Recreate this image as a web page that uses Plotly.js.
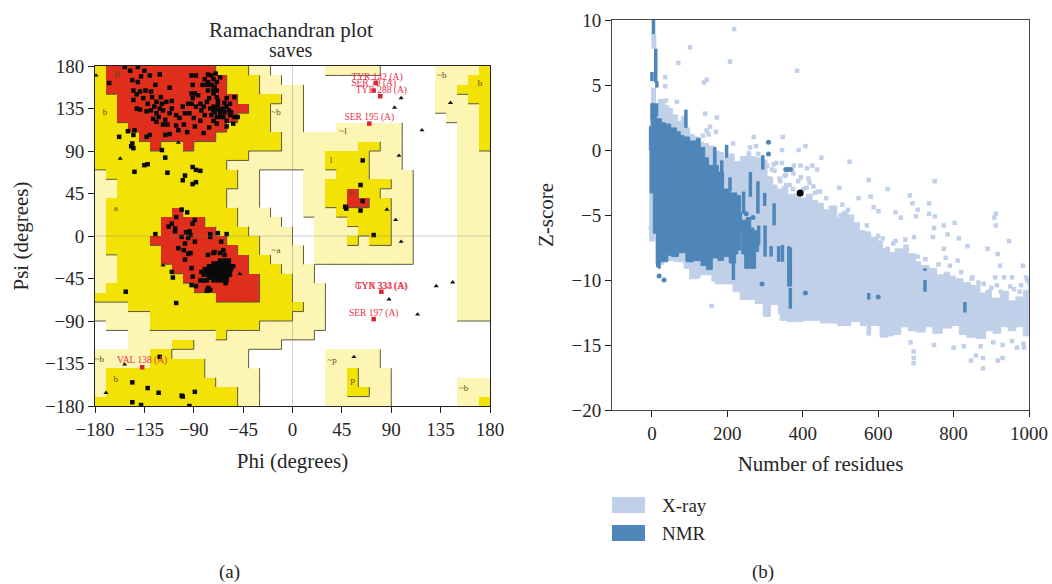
<!DOCTYPE html>
<html><head><meta charset="utf-8">
<script src="https://cdn.plot.ly/plotly-3.0.1.min.js"></script>
<style>html,body{margin:0;padding:0;background:#fff}#c{width:1052px;height:584px}</style>
</head><body><div id="c"></div>
<script>
// ---------- Panel (a): Ramachandran regions, one row per 10 deg of psi (top = 180), tokens = level + end column
const regionRows = [
"y1 r11 y14 p16 .21 p26 .31 p35 y36",
"y1 r12 y15 p17 .31 p34 y36",
"y1 r12 y15 p19 .31 p33 y36",
"y2 r13 y17 p19 .31 p34 y36",
"y2 r14 y16 p19 .31 p35 y36",
"y2 r13 y16 p19 .32 p35 y36",
"y3 r12 y16 p19 .22 p28 .33 p35 y36",
"y4 r11 y17 p28 .33 p35 y36",
"y5 r6 y8 r9 y17 p24 y26 p28 .33 p35 y36",
"y14 p21 y25 p28 .33 p36",
"y12 p21 y25 p28 .33 p36",
"p1 y13 p15 .19 p22 y25 p29 .33 p36",
"p2 y13 p15 .19 p21 y27 p29 .33 p36",
"p2 y12 p15 .19 p21 y23 r24 y26 p29 .33 p36",
"p1 y12 p15 .19 p21 y23 r25 y27 p29 .33 p36",
"p1 y7 r8 y13 p16 .19 p22 y27 p29 .33 p36",
"p1 y6 r10 y13 p17 .20 p23 y27 p29 .33 p36",
"p1 y6 r11 y14 p18 .20 p24 y27 p29 .33 p36",
"p1 y5 r12 y15 p18 .20 p23 y24 p25 y27 p29 .33 p36",
"p1 y6 r13 y15 p19 .20 p29 .33 p36",
"p2 y6 r14 y16 p19 .20 p29 .33 p36",
"p2 y7 r14 y17 p20 .33 p36",
"p2 y8 r15 y18 p20 .33 p36",
"p1 y9 r15 y18 p21 .33 p36",
"y11 r15 y18 p21 .33 p36",
"p3 y19 p21 .33 p36",
"p5 y18 p21 .33 p36",
".1 p5 y15 p21 .36",
".3 p11 y12 p20 .36",
".3 p7 y9 p17 .36",
"p5 y7 p14 .21 p26 .36",
"p5 y10 p14 .21 p26 .36",
"p1 y10 p15 .21 p23 y24 p27 .36",
"p1 y11 p15 .21 p23 y24 p27 .33 p36",
"p1 y13 p15 .21 p23 y25 p27 .33 p36",
"y13 p15 .21 p27 .33 p35 y36"
];
const residues = [
[-153,179],[-148,175],[-141,179],[-135,175],[-138,169],[-141,163],[-167,162],[-121,171],[-145,154],[-139,153],[-134,154],[-129,153],[-145,144],[-112,157],[-92,170],[-91,160],[-88,170],[-77,171],
[-80,166],[-77,163],[-72,166],[-69,163],[-78,160],[-74,160],[-71,158],[-77,154],[-69,154],[-72,151],[-92,151],[-89,151],[-86,149],[-91,146],[-84,140],[-92,140],[-78,142],[-69,147],[-60,146],[-53,147],
[-72,137],[-68,139],[-63,135],[-60,137],[-71,131],[-66,130],[-62,131],[-74,128],[-69,126],[-63,126],[-57,128],[-53,126],[-50,126],[-72,133],
[-124,142],[-119,140],[-115,142],[-126,137],[-121,135],[-124,130],[-118,133],[-122,126],[-127,124],[-124,121],[-116,123],[-112,130],[-106,128],[-100,137],[-95,140],[-88,137],[-81,137],[-94,130],[-106,117],[-104,112],[-99,118],[-89,116],[-69,119],[-60,116],[-54,119],[-81,109],
[-139,134],[-133,132],[-129,133],[-142,135],[-130,107],[-133,105],[-116,107],[-144,112],[-150,111],[-145,107],[-158,105],[-146,98],[-147,95],[-145,93],[-119,91],[-116,83],[-132,76],[-135,75],[-144,68],[-114,67],[-91,73],[-88,70],[-84,69],[-98,64],[-100,59],[-91,55],[-88,57],
[-75,135],[-70,134],[-66,134],[-58,133],[-65,126],[-60,122],[-72,122],[-56,131],[-68,143],[-62,141],[-57,140],[-80,128],[-83,133],[-76,146],[-72,155],[-66,168],[-74,170],[-70,172],[-82,160],[-98,130],[-103,125],[-110,135],[-114,118],[-120,147],[-128,147],[-110,143],[-132,140],[-136,146],[-142,150],[-146,165],[-130,170],[-125,160],[-118,118],[-90,125],[-84,122],[-96,110],[-112,108],[-76,115],
[-101,28],[-96,25],[-106,20],[-110,13],[-113,10],[-107,8],[-89,17],[-91,13],[-125,2],[-94,4],[-101,-1],[-68,3],[-60,2],[-75,-1],
[-107,5],[-97,4],[-94,5],[-95,-2],[-89,-6],[-104,-13],[-99,-15],[-95,-19],[-98,-25],[-75,2],[-65,-6],[-71,-17],[-66,-18],[-62,-20],[-110,-38],[-109,-44],[-152,-59],[-106,-71],[-92,-34],[-91,-43],[-92,-52],[-88,-53],[-78,-47],[-78,-58],[-75,-57],[-61,-50],
[-93,1],[-93,-18],[-98,-8],[-63,-15],[-72,-18],[-77,-20],[-81,-47],[-77,-55],[-84,-47],[-54,-32],
[-66,-26],[-62,-26],[-58,-26],[-72,-29],[-68,-29],[-64,-29],[-60,-29],[-76,-32],[-72,-32],[-68,-32],[-64,-32],[-60,-32],[-56,-32],[-80,-35],[-76,-35],[-72,-35],[-68,-35],[-64,-35],[-60,-35],[-56,-35],
[-79,-38],[-75,-38],[-71,-38],[-67,-38],[-63,-38],[-59,-38],[-77,-41],[-73,-41],[-69,-41],[-65,-41],[-61,-41],[-57,-41],[-72,-44],[-68,-44],[-64,-44],[-60,-44],[-68,-47],[-64,-47],
[-74,-33.5],[-70,-33.5],[-66,-33.5],[-62,-33.5],[-58,-33.5],[-77,-36.5],[-73,-36.5],[-69,-36.5],[-65,-36.5],[-61,-36.5],[-57,-36.5],[-75,-40],[-71,-40],[-67,-40],[-63,-40],[-59,-40],[-70,-43],[-66,-43],[-62,-43],[-66,-46],[-62,-46],[-70,-30.5],[-66,-30.5],[-62,-30.5],[-58,-30.5],[-83,-38],[-81,-41],[-76,-44],[-72,-47],[-60,-47],
[-121,-128],[-146,-155],[-132,-161],[-122,-166],[-101,-169],[-100,-170],[-89,-165],[-146,-176],[-138,-179],[-94,-180],
[64,80],[62,54],[64,37],[48,31],[49,29],[62,27],[74,1]
];
const glycines = [[99,146],[93,136],[118,112],[144,141],[97,85],[86,28],[94,17],[-157,82],[-104,99],[-179,170],[99,-6],[131,-53],[146,-49],[88,-67],[114,-83],[56,-128],[-153,-136],[-170,-166],[-118,-31],[-48,-40]];
const outlierPts = [[76,162],[74,154],[80,148],[70,119],[81,-59],[74,-88],[-137,-139]];
const outlierNames = ["TYR 142 (A)","SER 79 (A)","TYR 288 (A)","SER 195 (A)","GYN 333 (A)","TYR 334 (A)","SER 197 (A)","VAL 138 (A)"];
const outlierNamePos = [[77,168],[74,161],[81,154],[70,125],[81,-54],[81,-54],[74,-82],[-137,-132]];
const regionNames = ["B","b","a","l","L","~b","~l","~a","~b","b","~b","b","~p","p","~b"];
const regionNamePos = [[-160,171],[-171,130],[-161,29],[35,80],[54,46],[-15,130],[46,110],[-15,-16],[136,170],[171,161],[-176,-131],[-161,-152],[36,-132],[55,-153],[156,-162]];
const ramaTicks = [-180,-135,-90,-45,0,45,90,135,180];

// ---------- Panel (b): Z-score against number of residues (upper edge left to right, then lower edge back)
const xrayBodyN = [-6,-4,5,20,30,45,55,68,78,90,100,112,125,137,150,165,180,190,205,218,235,252,262,275,290,305,320,332,345,360,378,394,410,425,440,455,470,490,505,520,535,550,565,580,600,612,630,645,668,680,700,713,735,755,775,790,805,825,845,870,885,900,925,945,965,985,1000,
 1000,985,965,945,925,905,885,860,835,815,795,770,745,725,700,680,660,640,625,605,580,571,553,527,492,447,402,359,340,335,314,295,274,234,215,168,159,123,100,85,60,30,10,-6];
const xrayBodyZ = [0,2.5,3.3,3.9,3.4,3.2,2.7,2.2,2.6,1.7,1.2,1,0.6,0.5,0.3,-0.1,-0.2,-0.6,-0.3,-0.9,-0.5,-0.1,-0.5,-0.6,-1.2,-2.1,-2.7,-3,-2.8,-3.4,-3.4,-3.7,-3.4,-3.9,-4.1,-4.6,-4.3,-5.2,-4.7,-5,-5.6,-6.2,-6.3,-6.7,-7,-7.6,-7.9,-7.6,-7.3,-8,-8.6,-8.9,-9.1,-9.6,-9.4,-9.7,-9.9,-10.2,-10.4,-11,-10.8,-11.4,-10.9,-11.6,-11.3,-10.8,-10.4,
 -14.3,-13.6,-13.9,-13.6,-14.1,-13.9,-14.5,-14.4,-14.2,-13.5,-13.7,-14.1,-13.6,-14,-13.9,-13.6,-14.2,-14.3,-14.4,-13.5,-14.2,-13.5,-13.2,-13.5,-13.3,-13.1,-13.2,-13.1,-12.6,-11.9,-12.8,-11.8,-11.5,-10.9,-10.3,-10.1,-9.6,-9.9,-9.1,-8.6,-8.5,-8.8,-7,0];
const xrayDotN = [218,101,207,70,35,145,138,35,385,66,37,141,172,154,145,170,150,135,270,347,215,276,345,407,389,449,323,345,376,394,411,425,438,-1,-3,123,
 524,575,625,750,684,497,548,580,588,601,646,660,691,735,735,705,700,750,774,748,803,912,908,912,814,837,947,890,917,784,745,695,646,625,811,779,774,923,984,910,934,955,992,979,
 800,846,878,878,827,872,859,917,930,968,987,694,694,694,748,686,575,
 300,312,325,340,352,365,375,388,402,415,428,440,305,330,355,372,395,418,445,480,500,520,545,570,600,640,655,690,725,760,790,820,850,880,900,925,950,975,1000,905,930,955,985,
 260,282,300,318,338,356,374,410,432,462,505,612,672,705,848,866,895,915,940,960,995,1000,1000,158];
const xrayDotZ = [9.3,7.9,6.8,6.7,5.6,5.4,5.2,4.9,6.1,3.7,3.8,2.8,2.5,1.8,1.5,1.4,1.2,1.1,1,1,0.5,0.3,0,0.3,0,-0.6,-1.1,-1,-1.2,-1.2,-1.4,-1.2,-1.5,-3.5,-6,-9.7,
 -0.9,-2.3,-3,-2.4,-3.5,-2.9,-3.7,-3.6,-4.4,-4.7,-4.8,-5.2,-4.1,-4.1,-4.9,-4.6,-5.1,-5.1,-5.8,-6,-5.6,-4.9,-5.2,-5.8,-6.8,-7.4,-7,-7.6,-8,-6.5,-6.7,-6.7,-7,-7.6,-8.5,-8.3,-7.6,-8.9,-8.9,-9.8,-9.8,-9.8,-9.8,-10.4,
 -15.2,-16.2,-16.8,-16,-15.1,-15.1,-15.8,-16.2,-16,-15.2,-15.2,-15.5,-16,-16.4,-15,-14.8,-14.1,
 -1.8,-2.2,-1.6,-2.4,-2,-2.7,-1.8,-2.4,-3,-2.2,-2.8,-3.2,-1.2,-1,-1.9,-1.5,-2.1,-2.5,-3.2,-4.6,-5,-4.6,-6.2,-5.8,-6.6,-7.2,-8,-8.1,-8.4,-8.8,-8.9,-9.4,-9.8,-10.3,-10.6,-10.9,-10.5,-10.9,-10.9,-14.8,-15,-14.7,-14.9,
 0.2,-0.3,-0.9,-1.5,-2.2,-2.7,-3,-2.9,-3.3,-3.7,-4.2,-6.8,-6.9,-8.2,-9.9,-10.2,-10.9,-10.4,-11,-10.7,-10,-10.2,-11.2,-12];
const nmrBodyN = [-5,-7,-2,12,25,35,50,65,75,85,100,118,128,140,150,163,170,176,190,205,225,235,238,235,228,222,205,190,175,160,145,130,110,90,70,52,42,30,22,17,12,3.5,-5];
const nmrBodyZ = [0,1.8,2.7,2.4,2.1,2,1.7,1.4,1.1,1,0.7,0.9,0.2,-0.6,-1.2,0.2,-1.2,-1.7,-3,-3.3,-3.5,-4.8,-6,-7.7,-8,-8.7,-8.2,-8.5,-8.3,-9.2,-8.9,-8.5,-8.6,-7.9,-8.2,-8.1,-8.6,-8.6,-9.1,-9,-6.4,-3.3,0];
const nmrBlobN = [238,250,262,270,280,283,275,262,246,238];
const nmrBlobZ = [-5.4,-5.2,-6,-6.2,-7,-7.8,-9.1,-9.1,-8,-5.4];
const nmrStreakN = [90,185,207,261,243,281,299,294,324,283,300,363,367,367,346,575,724,724,830,216,336,316,4,10,0,10,13,0,12,4,198];
const nmrStreakTop = [3.1,-0.8,-2.1,-1.7,-3.2,-2.4,-3.3,-0.4,-4.1,-5.8,-5.8,-7.4,-7.5,-10.6,-7.3,-11,-9.1,-10,-11.7,-8.7,-7.4,-7.4,10,7.8,6,6,5.3,3.6,3.6,3.6,0.4];
const nmrStreakEnd = [1.7,-2.4,-3.2,-3.6,-4.9,-4.9,-4.3,-1.5,-5.8,-7.3,-8.2,-10.5,-10.5,-12.2,-8.6,-11.5,-9.3,-10.9,-12.5,-10,-8.6,-8.2,8.9,6,5.3,5.2,4.8,2.4,2.6,2.4,-0.6];
const xrayStreakN = [5,4,22,30];
const xrayStreakTop = [8.9,4.8,3.9,3.6];
const xrayStreakEnd = [7.8,3.6,2.4,2.6];
const nmrDotN = [19,32,292,309,309,355,361,367,407,600,250,268];
const nmrDotZ = [-9.7,-10,-10.3,0.6,-0.3,-1.5,-1.5,-1.5,-11,-11.3,-4.9,-5.2];
const targetN = [393];
const targetZ = [-3.3];
const residueTicks = [0,200,400,600,800,1000];
const zTicks = [-20,-15,-10,-5,0,5,10];
const legendNames = ["X-ray","NMR"];

// ---------- styles
const SERIF = '"Liberation Serif", serif';
const TXT = '#262626';
const RED='#df2f1c', YEL='#f3e205', PALE='#fdf5b4', EDGE='#5c5a3e';
const XRAY='#c1d0e9', NMR='#4f86b9';
const W=1052, H=584;
const levels = {'.':0,p:1,y:2,r:3};

const grid = regionRows.map(r=>{
  const row=[]; r.split(' ').forEach(t=>{const lv=levels[t[0]],end=parseInt(t.slice(1));while(row.length<end)row.push(lv);});
  return row;
});
const cellX=[...Array(36).keys()].map(i=>-175+10*i);
const cellY=[...Array(36).keys()].map(i=>175-10*i);
// darker edge wherever a region steps down to its right or below
const ex=[],ey=[];
grid.forEach((row,r)=>row.forEach((v,c)=>{
  const xr=-180+10*(c+1), yb=170-10*r;
  if(c<35 && row[c+1]<v){ex.push(xr,xr,null);ey.push(yb+10,yb,null);}
  if(r<35 && grid[r+1][c]<v){ex.push(xr-10,xr,null);ey.push(yb,yb,null);}
}));
const col=(a,i)=>a.map(p=>p[i]);
const segs=(ns)=>ns.flatMap(n=>[n,n,null]);
const segv=(top,end)=>top.flatMap((t,i)=>[t,end[i],null]);

const traces=[
 {type:'heatmap',x:cellX,y:cellY,z:grid,zmin:0,zmax:3,showscale:false,hoverinfo:'skip',xaxis:'x',yaxis:'y',
  colorscale:[[0,'#fff'],[.25,'#fff'],[.25,PALE],[.5,PALE],[.5,YEL],[.75,YEL],[.75,RED],[1,RED]]},
 {type:'scatter',mode:'lines',x:ex,y:ey,line:{color:EDGE,width:1},hoverinfo:'skip',showlegend:false},
 {type:'scatter',mode:'markers',x:col(residues,0),y:col(residues,1),marker:{symbol:'square',size:4.5,color:'#0a0a0a'},showlegend:false},
 {type:'scatter',mode:'markers',x:col(glycines,0),y:col(glycines,1),marker:{symbol:'triangle-up',size:4.5,color:'#111'},showlegend:false},
 {type:'scatter',mode:'markers',x:col(outlierPts,0),y:col(outlierPts,1),marker:{symbol:'square',size:4.5,color:'#d9232e'},showlegend:false},
 {type:'scatter',mode:'text',x:col(outlierNamePos,0),y:col(outlierNamePos,1),text:outlierNames,textposition:'middle center',
  textfont:{family:SERIF,size:9.5,color:'#e8334a'},showlegend:false},
 {type:'scatter',mode:'text',x:col(regionNamePos,0),y:col(regionNamePos,1),text:regionNames,textposition:'middle center',
  textfont:{family:SERIF,size:9,color:'#5b4a20'},showlegend:false},

 {type:'scatter',mode:'markers',x:xrayDotN,y:xrayDotZ,xaxis:'x2',yaxis:'y2',marker:{symbol:'square',size:4.5,color:XRAY},showlegend:false},
 {type:'scatter',mode:'lines',x:xrayBodyN,y:xrayBodyZ,xaxis:'x2',yaxis:'y2',fill:'toself',fillcolor:XRAY,line:{color:XRAY,width:1,shape:'hv'},showlegend:false},
 {type:'scatter',mode:'lines',xaxis:'x2',yaxis:'y2',line:{color:XRAY,width:5},showlegend:false,hoverinfo:'skip',
  x:segs(xrayStreakN),y:segv(xrayStreakTop,xrayStreakEnd)},
 {type:'scatter',mode:'lines',x:nmrBodyN,y:nmrBodyZ,xaxis:'x2',yaxis:'y2',fill:'toself',fillcolor:NMR,line:{color:NMR,width:1,shape:'hv'},showlegend:false},
 {type:'scatter',mode:'lines',x:nmrBlobN,y:nmrBlobZ,xaxis:'x2',yaxis:'y2',fill:'toself',fillcolor:NMR,line:{color:NMR,width:1,shape:'hv'},showlegend:false},
 {type:'scatter',mode:'lines',xaxis:'x2',yaxis:'y2',line:{color:NMR,width:3.5},showlegend:false,hoverinfo:'skip',
  x:segs(nmrStreakN),y:segv(nmrStreakTop,nmrStreakEnd)},
 {type:'scatter',mode:'markers',x:nmrDotN,y:nmrDotZ,xaxis:'x2',yaxis:'y2',marker:{symbol:'circle',size:5,color:NMR},showlegend:false},
 {type:'scatter',mode:'markers',x:targetN,y:targetZ,xaxis:'x2',yaxis:'y2',marker:{symbol:'circle',size:7,color:'#000'},showlegend:false}
];

const tickfont={family:SERIF,size:19,color:TXT}, titlefont={family:SERIF,size:21,color:TXT};
const axisBase={showgrid:false,zeroline:false,showline:true,mirror:true,linecolor:'#222',linewidth:1,ticks:'outside',ticklen:6,tickcolor:'#222',tickfont};
const layout={
 width:W,height:H,margin:{l:0,r:0,t:0,b:0},paper_bgcolor:'#fff',plot_bgcolor:'#fff',showlegend:false,hovermode:false,
 title:{text:'Ramachandran plot',x:291/W,y:1-30/H,xanchor:'center',yanchor:'middle',font:{family:SERIF,size:21,color:TXT}},
 xaxis:{...axisBase,domain:[95/W,490/W],anchor:'y',range:[-180,180],tickvals:ramaTicks,
   title:{text:'Phi (degrees)',font:titlefont,standoff:14}},
 yaxis:{...axisBase,domain:[1-406/H,1-66/H],anchor:'x',range:[-180,180],tickvals:ramaTicks,
   title:{text:'Psi (degrees)',font:titlefont,standoff:10}},
 xaxis2:{...axisBase,domain:[612/W,1029/W],anchor:'y2',range:[-106,1000],tickvals:residueTicks,
   linecolor:'#444',title:{text:'Number of residues',font:titlefont,standoff:13}},
 yaxis2:{...axisBase,domain:[1-410/H,1-20/H],anchor:'x2',range:[-20,10],tickvals:zTicks,
   linecolor:'#444',title:{text:'Z-score',font:titlefont,standoff:12}},
 shapes:[
  {type:'line',xref:'x',yref:'y',x0:0,x1:0,y0:-180,y1:180,line:{color:'rgba(120,120,120,.35)',width:1},layer:'above'},
  {type:'line',xref:'x',yref:'y',x0:-180,x1:180,y0:0,y1:0,line:{color:'rgba(120,120,120,.35)',width:1},layer:'above'},
  {type:'rect',xref:'paper',yref:'paper',x0:612/W,x1:645/W,y0:1-513/H,y1:1-497/H,fillcolor:XRAY,line:{width:0}},
  {type:'rect',xref:'paper',yref:'paper',x0:612/W,x1:645/W,y0:1-541/H,y1:1-525/H,fillcolor:NMR,line:{width:0}}
 ],
 annotations:[
  {text:'saves',xref:'paper',yref:'paper',x:291/W,y:1-50/H,xanchor:'center',yanchor:'middle',showarrow:false,font:{family:SERIF,size:20,color:TXT}},
  {text:legendNames[0],xref:'paper',yref:'paper',x:660/W,y:1-505/H,xanchor:'left',yanchor:'middle',showarrow:false,font:{family:SERIF,size:19,color:TXT}},
  {text:legendNames[1],xref:'paper',yref:'paper',x:660/W,y:1-533/H,xanchor:'left',yanchor:'middle',showarrow:false,font:{family:SERIF,size:19,color:TXT}},
  {text:'(a)',xref:'paper',yref:'paper',x:229/W,y:1-572/H,xanchor:'center',yanchor:'middle',showarrow:false,font:{family:SERIF,size:19,color:TXT}},
  {text:'(b)',xref:'paper',yref:'paper',x:763/W,y:1-572/H,xanchor:'center',yanchor:'middle',showarrow:false,font:{family:SERIF,size:19,color:TXT}}
 ]
};
Plotly.newPlot('c',traces,layout,{displayModeBar:false,staticPlot:true});
</script></body></html>
